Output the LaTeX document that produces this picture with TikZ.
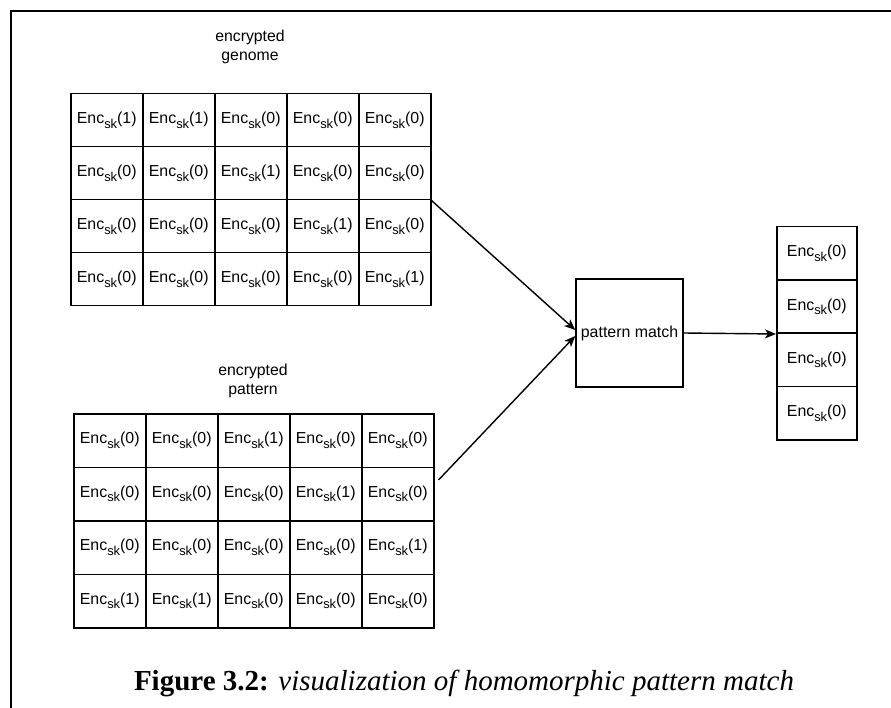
\documentclass[tikz,border=0pt]{standalone}
\usepackage{fontspec}
\setmainfont{Liberation Sans}
\newfontfamily\capfont{Liberation Serif}
\usetikzlibrary{arrows.meta}
% Enc with a lowered "sk" subscript
\newcommand{\encsk}[1]{Enc\raisebox{-0.28em}{\fontsize{12.9}{12.9}\selectfont sk}(#1)}
\begin{document}
\begin{tikzpicture}[x=1pt,y=-1pt,
  cell/.style={draw, line width=1.5pt, minimum width=72pt, minimum height=53pt,
    inner sep=0pt, anchor=north west, font=\fontsize{15.9}{18}\selectfont},
  outcell/.style={cell, minimum width=80pt, minimum height=53.25pt},
  label/.style={align=center, font=\fontsize{15.8}{19.5}\selectfont},
  procbox/.style={draw, line width=1.5pt, minimum width=107pt, minimum height=108pt,
    inner sep=0pt, font=\fontsize{15.9}{18}\selectfont},
  link/.style={line width=1.4pt, -{Stealth[length=11pt,width=9pt,inset=3pt]}}]
\useasboundingbox (0,0) rectangle (891,708);

% page frame (left and top rules)
\draw[line width=2.4pt] (11,708) -- (11,11) -- (891,11);

% encrypted genome
\node[label] (glabel) at (250,47) {encrypted\\genome};
\foreach \vals [count=\r] in {{1,1,0,0,0},{0,0,1,0,0},{0,0,0,1,0},{0,0,0,0,1}} {
  \foreach \v [count=\c] in \vals {
    \node[cell] (g-\r-\c) at ({70+(\c-1)*72},{93+(\r-1)*53}) {\encsk{\v}};
  }
}

% encrypted pattern
\node[label] (plabel) at (253,381) {encrypted\\pattern};
\foreach \vals [count=\r] in {{0,0,1,0,0},{0,0,0,1,0},{0,0,0,0,1},{1,1,0,0,0}} {
  \foreach \v [count=\c] in \vals {
    \node[cell, minimum height=53.5pt] (p-\r-\c) at ({73+(\c-1)*72},{413+(\r-1)*53.5}) {\encsk{\v}};
  }
}

% matching step
\node[procbox] (pm) at (629.5,333) {pattern match};

% result column
\foreach \v [count=\r] in {0,0,0,0} {
  \node[outcell] (o-\r) at (776,{226+(\r-1)*53.25}) {\encsk{\v}};
}

% connectors
\coordinate (pstart) at ([xshift=4pt,yshift=-13.5pt]p-2-5.north east);
\draw[link] (g-2-5.south east) -- ([yshift=3pt]pm.west);
\draw[link] (pstart) -- ([yshift=-3pt]pm.west);
\draw[link] (pm.east) -- (o-2.south west);

% caption
\node[anchor=base, font=\capfont\fontsize{29}{34}\selectfont] (cap) at (464,690)
  {\textbf{Figure 3.2:} \textit{visualization of homomorphic pattern match}};
\end{tikzpicture}
\end{document}
